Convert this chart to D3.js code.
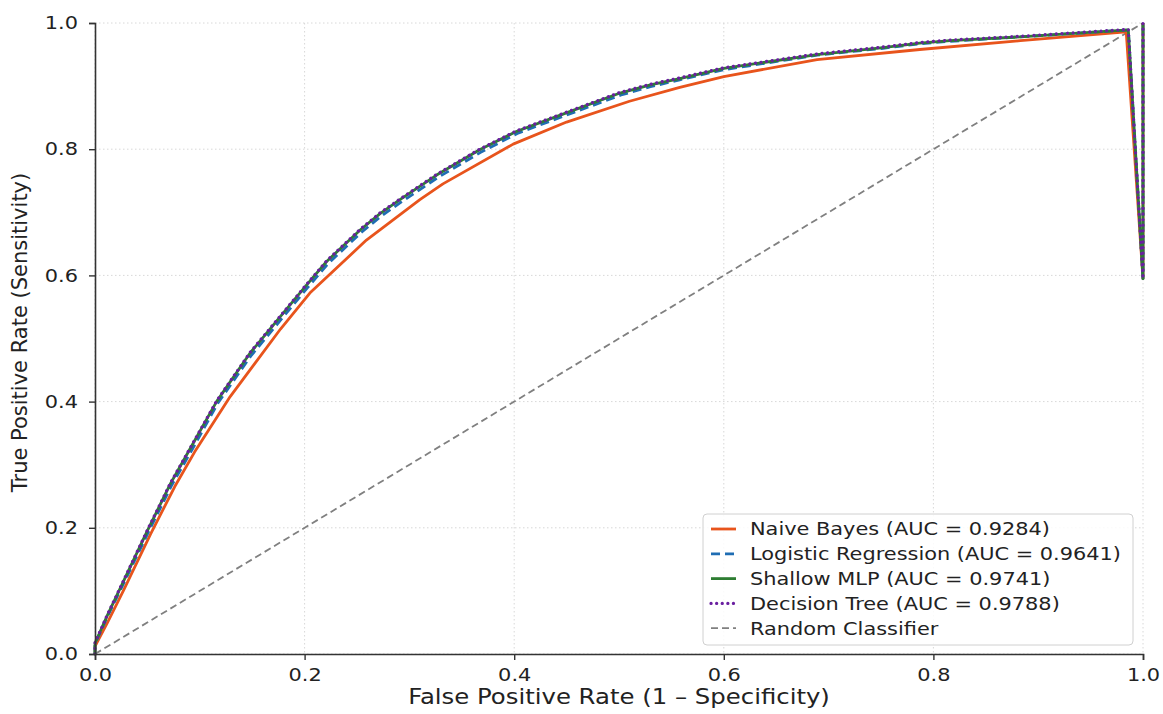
<!DOCTYPE html>
<html>
<head>
<meta charset="utf-8">
<script src="https://cdn.jsdelivr.net/npm/d3@7"></script>
<style>
  body { margin: 0; background: #fff; }
  text { font-family: "DejaVu Sans", sans-serif; fill: #222; }
  .wide { transform-box: fill-box; transform: scaleX(1.16); }
</style>
</head>
<body>
<div id="roc"></div>
<script>
var svgWidth = 1163;
var svgHeight = 714;

var margin = { top: 23, right: 20, bottom: 60, left: 95 };
var width = 1143 - margin.left;
var height = 654 - margin.top;

// ROC points (fpr, tpr)
var nbFpr = [0, 0, 0.012, 0.027, 0.053, 0.076, 0.095, 0.129, 0.177, 0.205, 0.259, 0.31, 0.332, 0.399, 0.45, 0.51, 0.558, 0.60, 0.689, 0.787, 0.883, 0.984, 1.0, 1.0];
var nbTpr = [0, 0.012, 0.05, 0.1, 0.19, 0.265, 0.32, 0.408, 0.515, 0.572, 0.656, 0.72, 0.745, 0.808, 0.843, 0.876, 0.898, 0.915, 0.942, 0.958, 0.972, 0.986, 0.595, 1.0];

var lrFpr = [0, 0, 0.012, 0.025, 0.05, 0.073, 0.092, 0.117, 0.149, 0.178, 0.203, 0.222, 0.254, 0.273, 0.292, 0.327, 0.368, 0.403, 0.445, 0.502, 0.53, 0.558, 0.60, 0.689, 0.752, 0.787, 0.816, 0.883, 0.986, 1.0, 1.0];
var lrTpr = [0, 0.016, 0.06, 0.104, 0.19, 0.267, 0.322, 0.397, 0.473, 0.531, 0.581, 0.618, 0.668, 0.694, 0.716, 0.755, 0.795, 0.825, 0.851, 0.886, 0.899, 0.91, 0.926, 0.949, 0.96, 0.967, 0.971, 0.978, 0.989, 0.595, 1.0];

var mlpFpr = [0, 0, 0.012, 0.024, 0.049, 0.072, 0.091, 0.116, 0.148, 0.177, 0.202, 0.221, 0.253, 0.272, 0.291, 0.326, 0.367, 0.402, 0.444, 0.501, 0.53, 0.558, 0.60, 0.689, 0.752, 0.787, 0.816, 0.883, 0.986, 1.0, 1.0];
var mlpTpr = [0, 0.017, 0.062, 0.104, 0.192, 0.27, 0.326, 0.4, 0.477, 0.535, 0.585, 0.622, 0.672, 0.698, 0.72, 0.759, 0.799, 0.828, 0.854, 0.889, 0.902, 0.912, 0.928, 0.95, 0.961, 0.968, 0.972, 0.978, 0.989, 0.595, 1.0];

var dtFpr = [0, 0, 0.012, 0.024, 0.049, 0.072, 0.091, 0.116, 0.148, 0.177, 0.202, 0.221, 0.253, 0.272, 0.291, 0.326, 0.367, 0.402, 0.444, 0.501, 0.53, 0.558, 0.60, 0.689, 0.752, 0.787, 0.816, 0.883, 0.986, 1.0, 1.0];
var dtTpr = [0, 0.018, 0.063, 0.105, 0.193, 0.271, 0.327, 0.401, 0.478, 0.536, 0.586, 0.623, 0.673, 0.699, 0.721, 0.76, 0.8, 0.829, 0.855, 0.89, 0.903, 0.913, 0.929, 0.951, 0.962, 0.969, 0.973, 0.979, 0.99, 0.595, 1.0];

var randFpr = [0, 1];
var randTpr = [0, 1];

var modelNames = ["Naive Bayes", "Logistic Regression", "Shallow MLP", "Decision Tree"];
var aucValues = [0.9284, 0.9641, 0.9741, 0.9788];
var xTicks = [0.0, 0.2, 0.4, 0.6, 0.8, 1.0];
var yTicks = [0.0, 0.2, 0.4, 0.6, 0.8, 1.0];

var series = [
  { fpr: nbFpr, tpr: nbTpr, color: "#e8541c", dash: null, w: 2.8, cap: "butt" },
  { fpr: lrFpr, tpr: lrTpr, color: "#1f6db3", dash: "9,5", w: 2.8, cap: "butt" },
  { fpr: mlpFpr, tpr: mlpTpr, color: "#2e7d32", dash: null, w: 2.8, cap: "butt" },
  { fpr: dtFpr, tpr: dtTpr, color: "#6a1fa0", dash: "0.1,5.5", w: 3.2, cap: "round" }
];

var svg = d3.select("#roc")
  .append("svg")
  .attr("width", svgWidth)
  .attr("height", svgHeight);

var chartGroup = svg.append("g")
  .attr("transform", `translate(${margin.left}, ${margin.top})`);

// scales
var xScale = d3.scaleLinear().domain([0, 1]).range([0, width]);
var yScale = d3.scaleLinear().domain([0, 1]).range([height, 0]);

// dotted grid
chartGroup.append("g").selectAll("line")
  .data(xTicks)
  .enter()
  .append("line")
  .attr("x1", d => xScale(d)).attr("x2", d => xScale(d))
  .attr("y1", 0).attr("y2", height)
  .attr("stroke", "#d8d8d8")
  .attr("stroke-width", 1)
  .attr("stroke-dasharray", "1.5,2.5");

chartGroup.append("g").selectAll("line")
  .data(yTicks)
  .enter()
  .append("line")
  .attr("y1", d => yScale(d)).attr("y2", d => yScale(d))
  .attr("x1", 0).attr("x2", width)
  .attr("stroke", "#d8d8d8")
  .attr("stroke-width", 1)
  .attr("stroke-dasharray", "1.5,2.5");

// random classifier diagonal
var line = d3.line()
  .x(d => xScale(d[0]))
  .y(d => yScale(d[1]));

chartGroup.append("path")
  .datum(d3.zip(randFpr, randTpr))
  .attr("d", line)
  .attr("fill", "none")
  .attr("stroke", "#808080")
  .attr("stroke-width", 1.8)
  .attr("stroke-dasharray", "7,4");

// ROC curves
series.forEach(function(s) {
  chartGroup.append("path")
    .datum(d3.zip(s.fpr, s.tpr))
    .attr("d", line)
    .attr("fill", "none")
    .attr("stroke", s.color)
    .attr("stroke-width", s.w)
    .attr("stroke-linecap", s.cap)
    .attr("stroke-linejoin", "round")
    .attr("stroke-dasharray", s.dash);
});

// axes
var bottomAxis = d3.axisBottom(xScale).tickValues(xTicks).tickFormat(d3.format(".1f")).tickSizeOuter(0).tickSize(6);
var leftAxis = d3.axisLeft(yScale).tickValues(yTicks).tickFormat(d3.format(".1f")).tickSizeOuter(0).tickSize(6);

var xAxisG = chartGroup.append("g")
  .attr("transform", `translate(0, ${height})`)
  .call(bottomAxis);

var yAxisG = chartGroup.append("g")
  .call(leftAxis);

[xAxisG, yAxisG].forEach(function(g) {
  g.select(".domain").attr("stroke", "#333").attr("stroke-width", 1.6);
  g.selectAll(".tick line").attr("stroke", "#333").attr("stroke-width", 1.4);
  g.selectAll(".tick text")
    .attr("class", "wide")
    .style("font-family", "DejaVu Sans, sans-serif")
    .style("font-size", "18px")
    .attr("fill", "#222");
});
xAxisG.selectAll(".tick text").attr("y", 14).style("transform-origin", "center");
yAxisG.selectAll(".tick text").attr("x", -17).style("transform-origin", "right center");

// axis labels
chartGroup.append("text")
  .attr("transform", "rotate(-90)")
  .attr("x", 0 - (height / 2) + 6)
  .attr("y", -margin.left + 27)
  .attr("text-anchor", "middle")
  .style("font-size", "21px")
  .text("True Positive Rate (Sensitivity)");

chartGroup.append("text")
  .attr("class", "wide")
  .style("transform-origin", "center")
  .attr("x", width / 2)
  .attr("y", height + 50)
  .attr("text-anchor", "middle")
  .style("font-size", "21px")
  .text("False Positive Rate (1 \u2013 Specificity)");

// legend
var legend = svg.append("g").attr("transform", "translate(703, 514)");

legend.append("rect")
  .attr("width", 430)
  .attr("height", 131)
  .attr("rx", 4)
  .attr("fill", "#fff")
  .attr("fill-opacity", 0.85)
  .attr("stroke", "#d0d0d0")
  .attr("stroke-width", 1);

var legendItems = modelNames.map(function(n, i) {
  return { label: `${n} (AUC = ${aucValues[i].toFixed(4)})`, s: series[i] };
});
legendItems.push({ label: "Random Classifier", s: { color: "#808080", dash: "7,4", w: 1.8, cap: "butt" } });

var rows = legend.selectAll("g.row")
  .data(legendItems)
  .enter()
  .append("g")
  .attr("class", "row")
  .attr("transform", (d, i) => `translate(0, ${15 + i * 24.8})`);

rows.append("line")
  .attr("x1", 8).attr("x2", 33)
  .attr("y1", 0).attr("y2", 0)
  .attr("stroke", d => d.s.color)
  .attr("stroke-width", d => d.s.w)
  .attr("stroke-linecap", d => d.s.cap)
  .attr("stroke-dasharray", d => d.s.dash);

rows.append("text")
  .attr("class", "wide")
  .style("transform-origin", "left center")
  .attr("x", 47)
  .attr("y", 0)
  .attr("dy", "0.36em")
  .style("font-size", "18px")
  .text(d => d.label);
</script>
</body>
</html>
